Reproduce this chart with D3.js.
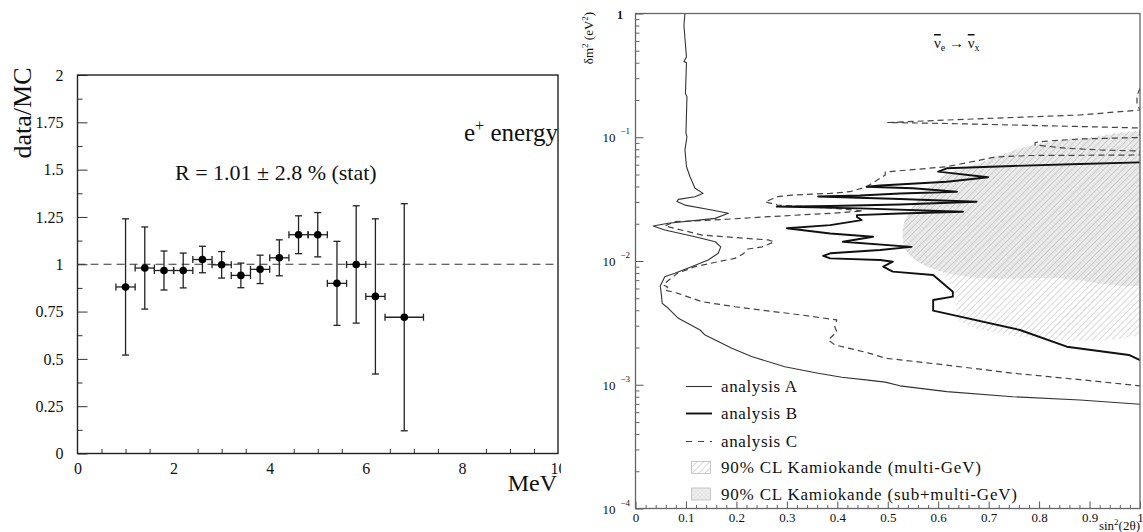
<!DOCTYPE html>
<html><head><meta charset="utf-8">
<script src="https://cdn.jsdelivr.net/npm/d3@7"></script>
<style>
body{margin:0;background:#fff}
svg{display:block}
text{font-family:"Liberation Serif","Times New Roman",serif;fill:#111}
</style>
</head><body>
<svg id="c" width="1143" height="532"></svg>
<script>
// ---------- LEFT PANEL DATA ----------
const energy    = [1.0, 1.4, 1.8, 2.2, 2.6, 3.0, 3.4, 3.8, 4.2, 4.6, 5.0, 5.4, 5.8, 6.2, 6.8];
const energyErr = [0.2, 0.2, 0.2, 0.2, 0.2, 0.2, 0.2, 0.2, 0.2, 0.2, 0.2, 0.2, 0.2, 0.2, 0.4];
const ratio     = [0.88, 0.98, 0.967, 0.967, 1.025, 0.997, 0.941, 0.973, 1.034, 1.156, 1.156, 0.899, 0.999, 0.83, 0.72];
const ratioErr  = [0.36, 0.217, 0.103, 0.092, 0.07, 0.07, 0.065, 0.075, 0.095, 0.10, 0.117, 0.222, 0.31, 0.41, 0.60];
const xTicksL = [0, 2, 4, 6, 8, 10];
const yTicksL = [0, 0.25, 0.5, 0.75, 1, 1.25, 1.5, 1.75, 2];
const refLine = 1;

// ---------- RIGHT PANEL DATA : [sin^2(2θ), δm^2 (eV^2)] ----------
const analysisA = [[0.098,1.0],[0.096,0.8],[0.101,0.445],[0.096,0.41],[0.101,0.40],[0.099,0.226],[0.102,0.213],[0.100,0.108],[0.102,0.101],[0.098,0.079],[0.101,0.058],[0.108,0.048],[0.118,0.0387],[0.134,0.0352],[0.118,0.0331],[0.085,0.0315],[0.082,0.0302],[0.098,0.0283],[0.151,0.0258],[0.184,0.0243],[0.158,0.0221],[0.065,0.0202],[0.035,0.0192],[0.058,0.0178],[0.118,0.0157],[0.158,0.0143],[0.169,0.0130],[0.164,0.01154],[0.144,0.0102],[0.111,0.0090],[0.078,0.00796],[0.058,0.00747],[0.049,0.00628],[0.051,0.00548],[0.053,0.00455],[0.065,0.00415],[0.085,0.00344],[0.128,0.00277],[0.138,0.00252],[0.191,0.00197],[0.230,0.00169],[0.296,0.00140],[0.362,0.00124],[0.409,0.00115],[0.461,0.00109],[0.495,0.00105],[0.524,0.00098],[0.617,0.00088],[0.748,0.0008],[0.881,0.000753],[1.0,0.000695]];
const analysisB = [[1.0,0.0627],[0.881,0.0608],[0.748,0.0586],[0.617,0.0561],[0.600,0.0527],[0.699,0.0475],[0.617,0.0437],[0.485,0.0407],[0.458,0.0398],[0.550,0.0387],[0.637,0.0363],[0.524,0.0351],[0.445,0.0338],[0.362,0.0332],[0.524,0.0317],[0.676,0.0301],[0.524,0.0286],[0.386,0.0278],[0.280,0.0275],[0.445,0.0266],[0.649,0.025],[0.524,0.0242],[0.439,0.0235],[0.439,0.0227],[0.448,0.0214],[0.386,0.0195],[0.300,0.0184],[0.386,0.0167],[0.471,0.0157],[0.411,0.0143],[0.547,0.0130],[0.485,0.01227],[0.386,0.01154],[0.372,0.01098],[0.386,0.0105],[0.485,0.0102],[0.510,0.00987],[0.491,0.0090],[0.510,0.0082],[0.590,0.0077],[0.629,0.00565],[0.629,0.00515],[0.590,0.00484],[0.590,0.00397],[0.762,0.00277],[0.855,0.00203],[0.978,0.00174],[1.0,0.00158]];
const analysisC = [[1.0,0.25],[0.994,0.2155],[0.994,0.1856],[1.0,0.166],[0.881,0.1513],[0.748,0.1444],[0.617,0.1378],[0.5,0.1316],[0.617,0.1292],[0.748,0.1256],[0.881,0.1221],[1.0,0.1188],[1.0,0.0995],[0.881,0.0968],[0.816,0.0932],[0.792,0.0907],[0.792,0.0866],[0.855,0.0814],[0.921,0.0789],[1.0,0.0774],[1.0,0.0719],[0.782,0.0712],[0.713,0.0692],[0.617,0.0578],[0.495,0.0524],[0.495,0.0495],[0.457,0.0396],[0.425,0.0363],[0.386,0.0352],[0.310,0.0341],[0.282,0.0331],[0.257,0.0301],[0.282,0.0283],[0.386,0.0268],[0.451,0.0254],[0.395,0.0244],[0.263,0.0228],[0.152,0.0214],[0.078,0.0208],[0.058,0.0192],[0.132,0.0162],[0.263,0.0148],[0.275,0.0143],[0.251,0.0130],[0.223,0.0125],[0.213,0.0114],[0.197,0.0105],[0.164,0.00987],[0.118,0.0090],[0.084,0.0080],[0.062,0.0068],[0.055,0.0064],[0.064,0.00617],[0.058,0.00583],[0.084,0.00548],[0.132,0.00469],[0.197,0.00427],[0.329,0.00366],[0.399,0.00334],[0.395,0.00294],[0.399,0.00268],[0.382,0.0023],[0.395,0.0021],[0.461,0.00181],[0.495,0.00164],[0.617,0.00144],[0.748,0.00124],[0.881,0.0011],[1.0,0.00098]];
const kamMulti    = [[1.05,0.097],[0.881,0.098],[0.782,0.086],[0.683,0.062],[0.604,0.047],[0.552,0.0283],[0.530,0.0185],[0.536,0.01227],[0.564,0.00963],[0.612,0.0078],[0.630,0.0062],[0.635,0.0045],[0.645,0.00321],[1.05,0.00321]];
const kamSubMulti = [[1.05,0.096],[0.881,0.0968],[0.782,0.085],[0.683,0.0619],[0.604,0.0468],[0.552,0.0283],[0.530,0.0185],[0.536,0.01227],[0.564,0.00963],[0.618,0.0080],[0.683,0.00729],[0.822,0.00729],[1.05,0.00743]];
const xTicksR = [0,0.1,0.2,0.3,0.4,0.5,0.6,0.7,0.8,0.9,1];
const yDecadesR = [1e-4,1e-3,1e-2,1e-1,1];
const legendLabels = ["analysis A","analysis B","analysis C","90% CL Kamiokande (multi-GeV)","90% CL Kamiokande (sub+multi-GeV)"];
const legendWidths = [76, 76, 76, 260, 296];

const svg = d3.select("#c");
const defs = svg.append("defs");

// patterns
const ph = defs.append("pattern").attr("id","hatch").attr("patternUnits","userSpaceOnUse")
  .attr("width",4.5).attr("height",4.5).attr("patternTransform","rotate(45)");
ph.append("line").attr("x1",0).attr("y1",0).attr("x2",0).attr("y2",4.5).attr("stroke","#a2a2a2").attr("stroke-width",0.8);
const pc = defs.append("pattern").attr("id","cross").attr("patternUnits","userSpaceOnUse")
  .attr("width",3).attr("height",3).attr("patternTransform","rotate(45)");
pc.append("rect").attr("width",3).attr("height",3).attr("fill","#efefef");
pc.append("line").attr("x1",0).attr("y1",0).attr("x2",0).attr("y2",3).attr("stroke","#cfcfcf").attr("stroke-width",0.6);
pc.append("line").attr("x1",0).attr("y1",0).attr("x2",3).attr("y2",0).attr("stroke","#cfcfcf").attr("stroke-width",0.6);

// ================= LEFT PANEL =================
const xL = d3.scaleLinear().domain([0,10]).range([77.5,558]);
const yL = d3.scaleLinear().domain([0,2]).range([453.5,75]);
const gL = svg.append("g");
const tickStyle = g => { g.select(".domain").remove(); g.selectAll("line").attr("stroke","#333").attr("stroke-width",1); };

gL.append("g").attr("transform",`translate(${xL(0)},0)`)
  .call(d3.axisLeft(yL).tickValues(d3.range(0.125,2,0.25)).tickSize(-5).tickFormat(""))
  .call(tickStyle);
gL.append("g").attr("transform",`translate(${xL(0)},0)`)
  .call(d3.axisLeft(yL).tickValues(yTicksL).tickSize(-10).tickPadding(14).tickFormat(d3.format("~g")))
  .call(tickStyle)
  .call(g=>g.selectAll("text").attr("font-size",16).attr("fill","#111").attr("font-family","Liberation Serif"));
gL.append("g").attr("transform",`translate(0,${yL(0)})`)
  .call(d3.axisBottom(xL).tickValues(d3.range(0.5,10,0.5).filter(v=>v%2!==0)).tickSize(-4.5).tickFormat(""))
  .call(tickStyle);
defs.append("clipPath").attr("id","clipL").append("rect").attr("x",0).attr("y",0).attr("width",561).attr("height",532);
gL.append("g").attr("transform",`translate(0,${yL(0)})`).attr("clip-path","url(#clipL)")
  .call(d3.axisBottom(xL).tickValues(xTicksL).tickSize(-9).tickPadding(9).tickFormat(d3.format("d")))
  .call(tickStyle)
  .call(g=>g.selectAll("text").attr("font-size",16).attr("fill","#111").attr("font-family","Liberation Serif"));

gL.append("rect").attr("x",xL(0)).attr("y",yL(2)).attr("width",xL(10)-xL(0)).attr("height",yL(0)-yL(2))
  .attr("fill","none").attr("stroke","#222").attr("stroke-width",1.4);

gL.append("line").attr("x1",xL(0)).attr("x2",xL(10)).attr("y1",yL(refLine)).attr("y2",yL(refLine))
  .attr("stroke","#333").attr("stroke-width",1).attr("stroke-dasharray","8,5");

const pts = energy.map((e,i)=>({x:e,dx:energyErr[i],y:ratio[i],dy:ratioErr[i]}));
const gp = gL.append("g").attr("stroke","#222").attr("stroke-width",1.3);
gp.selectAll(".h").data(pts).join("line").attr("x1",d=>xL(d.x-d.dx)).attr("x2",d=>xL(d.x+d.dx)).attr("y1",d=>yL(d.y)).attr("y2",d=>yL(d.y));
gp.selectAll(".hl").data(pts).join("line").attr("x1",d=>xL(d.x-d.dx)).attr("x2",d=>xL(d.x-d.dx)).attr("y1",d=>yL(d.y)-3.5).attr("y2",d=>yL(d.y)+3.5);
gp.selectAll(".hr").data(pts).join("line").attr("x1",d=>xL(d.x+d.dx)).attr("x2",d=>xL(d.x+d.dx)).attr("y1",d=>yL(d.y)-3.5).attr("y2",d=>yL(d.y)+3.5);
gp.selectAll(".v").data(pts).join("line").attr("x1",d=>xL(d.x)).attr("x2",d=>xL(d.x)).attr("y1",d=>yL(d.y-d.dy)).attr("y2",d=>yL(d.y+d.dy));
gp.selectAll(".vt").data(pts).join("line").attr("x1",d=>xL(d.x)-3.5).attr("x2",d=>xL(d.x)+3.5).attr("y1",d=>yL(d.y+d.dy)).attr("y2",d=>yL(d.y+d.dy));
gp.selectAll(".vb").data(pts).join("line").attr("x1",d=>xL(d.x)-3.5).attr("x2",d=>xL(d.x)+3.5).attr("y1",d=>yL(d.y-d.dy)).attr("y2",d=>yL(d.y-d.dy));
gL.selectAll(".dot").data(pts).join("circle").attr("cx",d=>xL(d.x)).attr("cy",d=>yL(d.y)).attr("r",3.8).attr("fill","#000");

gL.append("text").attr("transform","translate(31,113) rotate(-90)").attr("text-anchor","middle").attr("font-size",26).text("data/MC");
const eT = gL.append("text").attr("x",464).attr("y",141).attr("font-size",25);
eT.append("tspan").text("e");
eT.append("tspan").attr("dy",-10).attr("font-size",16).text("+");
eT.append("tspan").attr("dy",10).text(" energy");
gL.append("text").attr("x",175).attr("y",180).attr("font-size",22).text("R = 1.01 \u00b1 2.8 % (stat)");
gL.append("text").attr("x",557).attr("y",491).attr("text-anchor","end").attr("font-size",24).text("MeV");

// ================= RIGHT PANEL =================
const xR = d3.scaleLinear().domain([0,1]).range([635.5,1140]);
const yR = d3.scaleLog().domain([1e-4,1]).range([508.5,13.5]);
const gR = svg.append("g");
defs.append("clipPath").attr("id","clipR").append("rect").attr("x",xR(0)).attr("y",yR(1)).attr("width",xR(1)-xR(0)).attr("height",yR(1e-4)-yR(1));

const area = d3.line().x(d=>xR(d[0])).y(d=>yR(d[1])).curve(d3.curveCatmullRomClosed);
const gArea = gR.append("g").attr("clip-path","url(#clipR)");
gArea.append("path").attr("d",area(kamSubMulti)).attr("fill","url(#cross)");
gArea.append("path").attr("d",area(kamMulti)).attr("fill","url(#hatch)");

const line = d3.line().x(d=>xR(d[0])).y(d=>yR(d[1]));
const gC = gR.append("g").attr("clip-path","url(#clipR)").attr("fill","none").attr("stroke-linejoin","round");
gC.append("path").attr("d",line(analysisC)).attr("stroke","#444").attr("stroke-width",1.2).attr("stroke-dasharray","6,4");
gC.append("path").attr("d",line(analysisA)).attr("stroke","#333").attr("stroke-width",1.1);
gC.append("path").attr("d",line(analysisB)).attr("stroke","#111").attr("stroke-width",1.9);

// y ticks
const minorY = [];
[1e-4,1e-3,1e-2,1e-1].forEach(b=>{ for(let m=2;m<=9;m++) minorY.push(b*m); });
gR.append("g").attr("transform",`translate(${xR(0)},0)`)
  .call(d3.axisLeft(yR).tickValues(minorY).tickSize(-4).tickFormat("")).call(tickStyle)
  .call(g=>g.selectAll("line").attr("stroke","#666"));
gR.append("g").attr("transform",`translate(${xR(0)},0)`)
  .call(d3.axisLeft(yR).tickValues(yDecadesR).tickSize(-8).tickFormat("")).call(tickStyle)
  .call(g=>g.selectAll("line").attr("stroke","#555"));
// x ticks
gR.append("g").attr("transform",`translate(0,${yR(1e-4)})`)
  .call(d3.axisBottom(xR).tickValues(d3.range(0.02,1,0.02).filter((v,i)=>(i+1)%5!==0)).tickSize(-3.5).tickFormat("")).call(tickStyle)
  .call(g=>g.selectAll("line").attr("stroke","#666"));
gR.append("g").attr("transform",`translate(0,${yR(1e-4)})`)
  .call(d3.axisBottom(xR).tickValues(xTicksR).tickSize(-7).tickPadding(4).tickFormat(d3.format("~g"))).call(tickStyle)
  .call(g=>g.selectAll("line").attr("stroke","#555"))
  .call(g=>g.selectAll("text").attr("font-size",13).attr("fill","#222").attr("font-family","Liberation Serif"));

gR.append("rect").attr("x",xR(0)).attr("y",yR(1)).attr("width",xR(1)-xR(0)).attr("height",yR(1e-4)-yR(1))
  .attr("fill","none").attr("stroke","#666").attr("stroke-width",1.3);

// y labels
yDecadesR.forEach(v=>{
  const e = Math.round(Math.log10(v));
  if(e===0){
    gR.append("text").attr("x",623).attr("y",yR(v)+5).attr("text-anchor","end").attr("font-size",12).attr("font-weight","bold").text("1");
  } else {
    gR.append("text").attr("x",615.5).attr("y",yR(v)+5).attr("text-anchor","end").attr("font-size",13).text("10");
    gR.append("text").attr("x",620.5).attr("y",yR(v)-3).attr("font-size",9).text(String(e).replace("-","\u2212"));
  }
});
const yl = gR.append("text").attr("transform","translate(593,38) rotate(-90)").attr("text-anchor","middle").attr("font-size",13);
yl.append("tspan").text("\u03b4m");
yl.append("tspan").attr("dy",-5).attr("font-size",9).text("2");
yl.append("tspan").attr("dy",5).text(" (eV");
yl.append("tspan").attr("dy",-5).attr("font-size",9).text("2");
yl.append("tspan").attr("dy",5).text(")");

const xl = gR.append("text").attr("x",1140).attr("y",530).attr("text-anchor","end").attr("font-size",13);
xl.append("tspan").text("sin");
xl.append("tspan").attr("dy",-5).attr("font-size",9).text("2");
xl.append("tspan").attr("dy",5).text("(2\u03b8)");

// annotation
const an = gR.append("text").attr("x",934).attr("y",48).attr("font-size",15);
an.append("tspan").style("text-decoration","overline").text("\u03bd");
an.append("tspan").attr("dy",3).attr("font-size",10).text("e");
an.append("tspan").attr("dy",-3).text(" \u2192 ");
an.append("tspan").style("text-decoration","overline").text("\u03bd");
an.append("tspan").attr("dy",3).attr("font-size",10).text("x");

// legend
const legY = [386.5, 413.5, 441.5, 468, 494.5];
const lg = gR.append("g");
lg.append("line").attr("x1",686).attr("x2",712).attr("y1",legY[0]).attr("y2",legY[0]).attr("stroke","#333").attr("stroke-width",1.1);
lg.append("line").attr("x1",686).attr("x2",712).attr("y1",legY[1]).attr("y2",legY[1]).attr("stroke","#111").attr("stroke-width",1.9);
lg.append("line").attr("x1",686).attr("x2",712).attr("y1",legY[2]).attr("y2",legY[2]).attr("stroke","#444").attr("stroke-width",1.2).attr("stroke-dasharray","6,6");
lg.append("rect").attr("x",691.5).attr("y",legY[3]-6.5).attr("width",19).attr("height",12).attr("fill","url(#hatch)").attr("stroke","#bbb").attr("stroke-width",0.8);
lg.append("rect").attr("x",691.5).attr("y",legY[4]-6.5).attr("width",19).attr("height",12).attr("fill","url(#cross)").attr("stroke","#bbb").attr("stroke-width",0.8);
lg.selectAll(".lt").data(legendLabels).join("text").attr("x",721).attr("y",(d,i)=>legY[i]+5)
  .attr("font-size",17).attr("textLength",(d,i)=>legendWidths[i]).attr("lengthAdjust","spacing").text(d=>d);
</script>
</body></html>
